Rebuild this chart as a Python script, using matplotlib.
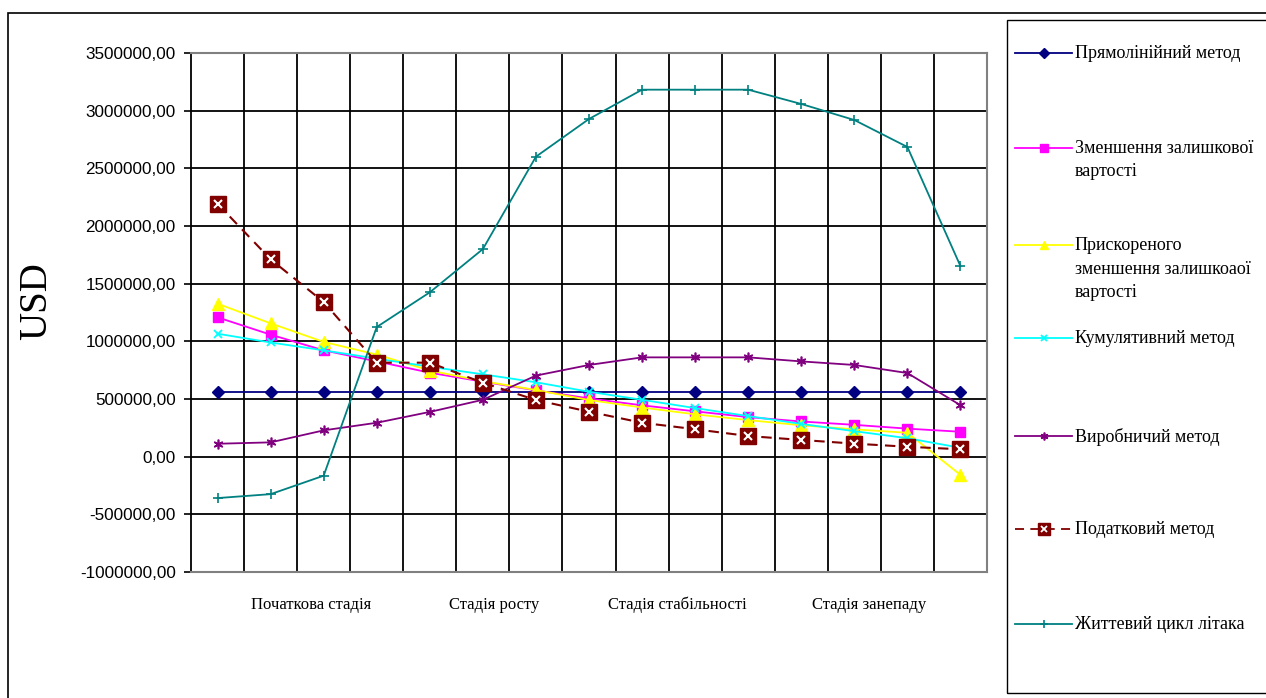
import matplotlib
matplotlib.use("Agg")
import matplotlib.pyplot as plt
from matplotlib.lines import Line2D
from matplotlib.patches import Rectangle
import matplotlib.transforms as mtrans
import numpy as np

# values, USD per period (15 periods)
straight = [560000] * 15
declining = [1208000, 1058000, 922000, 826000, 728000, 650000, 575000, 505000,
             445000, 393000, 343000, 305000, 276000, 243000, 216000]
accelerated = [1326000, 1156000, 995000, 885000, 747000, 655000, 578000, 491000,
               426000, 367000, 317000, 272000, 237000, 207000, -158000]
cumulative = [1066000, 990000, 922000, 850000, 780000, 714000, 645000, 563000,
              493000, 421000, 352000, 284000, 221000, 160000, 77000]
production = [112000, 124000, 228000, 294000, 388000, 493000, 703000, 795000,
              861000, 861000, 861000, 826000, 795000, 725000, 446000]
tax = [2193000, 1711000, 1341000, 815000, 815000, 641000, 491000, 390000,
       294000, 238000, 179000, 145000, 113000, 86000, 64000]
lifecycle = [-359000, -325000, -165000, 1124000, 1425000, 1800000, 2601000, 2928000,
             3182000, 3182000, 3182000, 3058000, 2919000, 2685000, 1652000]

stage_labels = ["Початкова стадія", "Стадія росту", "Стадія стабільності", "Стадія занепаду"]
stage_pos = [1.76, 5.21, 8.66, 12.28]

names = ["Прямолінійний метод", "Зменшення залишкової\nвартості",
         "Прискореного\nзменшення залишкоаої\nвартості", "Кумулятивний метод",
         "Виробничий метод", "Податковий метод", "Життевий цикл літака"]

serif = ["Liberation Serif", "DejaVu Serif"]
sans = ["Liberation Sans", "DejaVu Sans"]

fig = plt.figure(figsize=(12.66, 6.98), dpi=100)
W, H = 1266, 698

# outer frame of the chart object
fig.patches.append(Rectangle((8 / W, -0.05), 1.2, 1 - 13 / H + 0.05, transform=fig.transFigure,
                             fill=False, edgecolor="black", linewidth=1.2))

ax = fig.add_axes([191 / W, 1 - 572 / H, 796 / W, 519 / H])
x = np.arange(15)

styles = [
    dict(color="#000080", marker="D", markersize=6),
    dict(color="#FF00FF", marker="s", markersize=7),
    dict(color="#FFFF00", marker="^", markersize=8),
    dict(color="#00FFFF", marker="x", markersize=6, markeredgewidth=1.3),
    dict(color="#800080", marker=(6, 2, 0), markersize=7, markeredgewidth=1.2),
    dict(color="#800000", marker="s", markersize=11, linestyle=(0, (5, 3.5)), linewidth=1.5),
    dict(color="#008080", marker="+", markersize=7, markeredgewidth=1.2),
]
series = [straight, declining, accelerated, cumulative, production, tax, lifecycle]

for vals, st in zip(series, styles):
    kw = dict(linewidth=1.3)
    kw.update(st)
    ax.plot(x, vals, **kw)
    if st["color"] == "#800000":
        ax.plot(x, vals, linestyle="none", marker="x", color="white",
                markersize=6, markeredgewidth=1.5)

ax.set_xlim(-0.5, 14.5)
ax.set_ylim(-1000000, 3500000)
ax.set_yticks(np.arange(-1000000, 3500001, 500000))
ax.set_yticklabels([f"{v:.2f}".replace(".", ",") for v in np.arange(-1000000, 3500001, 500000)],
                   family=sans, fontsize=12.3)
ax.set_xticks(np.arange(0.5, 14.0, 1.0))
ax.set_xticklabels([])
ax.tick_params(axis="x", length=0)
ax.tick_params(axis="y", length=5, width=1.2, direction="out", pad=6)
ax.grid(True, color="black", linewidth=1.3)
ax.set_axisbelow(True)
for side in ["top", "right", "bottom"]:
    ax.spines[side].set_color("#808080")
    ax.spines[side].set_linewidth(1.5)
ax.spines["left"].set_color("black")
ax.spines["left"].set_linewidth(1.3)

trans = mtrans.blended_transform_factory(ax.transData, ax.transAxes)
for lab, p in zip(stage_labels, stage_pos):
    ax.text(p, -0.063, lab, transform=trans, ha="center", va="center",
            family=serif, fontsize=12)

fig.text(37 / W, 1 - 301 / H, "USD", rotation=90, ha="center", va="center",
         family=serif, fontsize=28)

# legend box drawn by hand
fig.patches.append(Rectangle((1007 / W, 1 - 693 / H), (1300 - 1007) / W, (693 - 20) / H,
                             transform=fig.transFigure, fill=False, edgecolor="black",
                             linewidth=1.0))
leg_y = [53, 148, 245, 338, 436, 529, 624]
for name, st, ly in zip(names, styles, leg_y):
    yy = 1 - ly / H
    ms = st.get("markersize", 6) * 0.8
    ln = Line2D([1015 / W, 1072 / W], [yy, yy], transform=fig.transFigure,
                color=st["color"], linewidth=1.3, linestyle=st.get("linestyle", "-"))
    fig.lines.append(ln)
    mk = Line2D([1043.5 / W], [yy], transform=fig.transFigure, color=st["color"],
                marker=st["marker"], markersize=ms, markeredgewidth=st.get("markeredgewidth", 1.0),
                linestyle="none")
    fig.lines.append(mk)
    if st["color"] == "#800000":
        fig.lines.append(Line2D([1043.5 / W], [yy], transform=fig.transFigure, color="white",
                                marker="x", markersize=5, markeredgewidth=1.3, linestyle="none"))
    fig.text(1075 / W, yy + 8 / H, name, ha="left", va="top", family=serif,
             fontsize=13, linespacing=1.5)

fig.savefig("out.png", dpi=100)
